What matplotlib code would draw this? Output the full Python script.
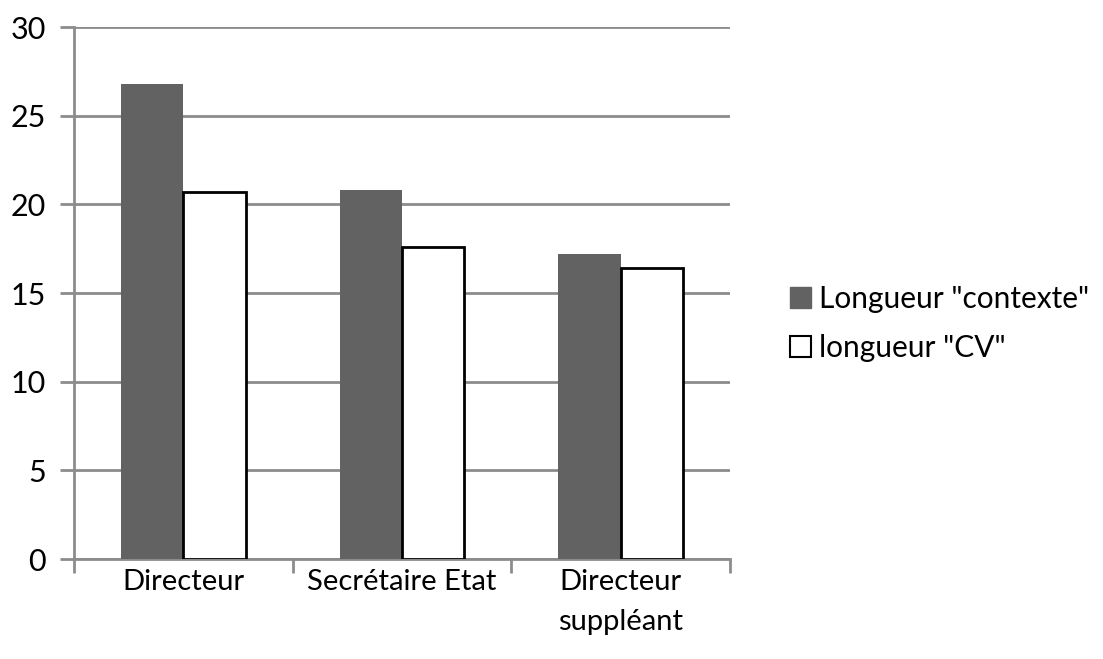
import matplotlib
matplotlib.use("Agg")
import matplotlib.pyplot as plt
import numpy as np
from matplotlib.patches import Patch

categories = ["Directeur", "Secrétaire Etat", "Directeur\nsuppléant"]
contexte = [26.8, 20.8, 17.2]
cv = [20.7, 17.6, 16.4]
series_names = ['Longueur "contexte"', 'longueur "CV"']
yticks = [0, 5, 10, 15, 20, 25, 30]

plt.rcParams["font.family"] = ["Lato", "DejaVu Sans"]

fig = plt.figure(figsize=(11.03, 6.59), dpi=100)
ax = fig.add_axes([0.0671, 0.1517, 0.5947, 0.8073])

x = np.arange(len(categories))
w = 0.285
grid_c = "#8c8c8c"
dark = "#626262"

ax.bar(x - w / 2, contexte, width=w, color=dark, edgecolor=dark, linewidth=0, zorder=3)
ax.bar(x + w / 2, cv, width=w, color="white", edgecolor="black", linewidth=2, zorder=3)

ax.set_xlim(-0.5, len(categories) - 0.5)
ax.set_ylim(0, 30)
ax.set_yticks(yticks)
ax.yaxis.grid(True, color=grid_c, linewidth=2, zorder=0)
ax.set_axisbelow(True)

for s in ["top", "right"]:
    ax.spines[s].set_visible(False)
for s in ["left", "bottom"]:
    ax.spines[s].set_color(grid_c)
    ax.spines[s].set_linewidth(2)

# category boundaries carry the x ticks; labels sit at centres
ax.set_xticks(np.arange(-0.5, len(categories)), minor=False)
ax.set_xticklabels([])
ax.set_xticks(x, minor=True)
ax.set_xticklabels(categories, minor=True, fontsize=21, linespacing=1.7)
ax.tick_params(axis="x", which="major", length=10, width=2, color=grid_c)
ax.tick_params(axis="x", which="minor", length=0, pad=7)
ax.tick_params(axis="y", length=10, width=2, color=grid_c, labelsize=22, pad=10)

handles = [Patch(facecolor=dark, edgecolor=dark),
           Patch(facecolor="white", edgecolor="black", linewidth=1.5)]
fig.legend(handles, series_names, loc="center left", bbox_to_anchor=(0.692, 0.509),
           frameon=False, fontsize=21.5, handlelength=0.7, handleheight=0.7,
           handletextpad=0.25, labelspacing=0.7)

fig.savefig("out.png", dpi=100)
